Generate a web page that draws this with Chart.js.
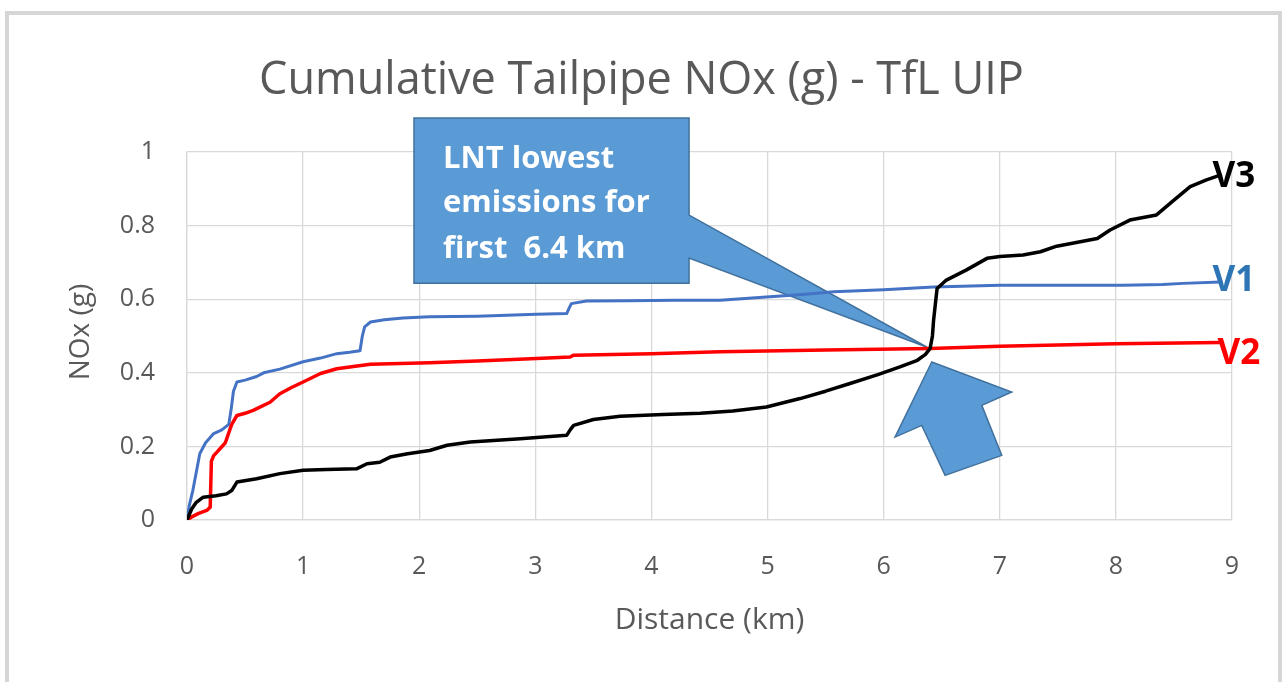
<!DOCTYPE html>
<html><head><meta charset="utf-8">
<script src="https://cdn.jsdelivr.net/npm/chart.js@4.4.1/dist/chart.umd.min.js"></script>
<style>html,body{margin:0;padding:0;background:#fff;overflow:hidden}#wrap{width:1283px;height:682px}</style>
</head><body><div id="wrap"><canvas id="c" width="1283" height="682"></canvas></div>
<script>
// ---- data ----
const chartTitle = 'Cumulative Tailpipe NOx (g) - TfL UIP';
const xAxisTitle = 'Distance (km)';
const yAxisTitle = 'NOx (g)';
const seriesNames = ['V1', 'V2', 'V3'];
const xTickLabels = ['0','1','2','3','4','5','6','7','8','9'];
const yTickLabels = ['0','0.2','0.4','0.6','0.8','1'];
const calloutLines = ['LNT lowest', 'emissions for', 'first  6.4 km'];

const v1X = [0,0.02,0.05,0.08,0.11,0.16,0.23,0.30,0.36,0.38,0.40,0.43,0.50,0.60,0.66,0.80,1.00,1.15,1.29,1.40,1.49,1.51,1.53,1.58,1.70,1.86,2.09,2.50,3.01,3.27,3.29,3.31,3.44,3.80,4.20,4.59,4.99,5.30,5.57,6.00,6.43,7.00,7.50,8.06,8.40,8.58,8.90];
const v1Y = [0,0.04,0.08,0.13,0.18,0.21,0.235,0.245,0.26,0.30,0.35,0.375,0.38,0.39,0.40,0.41,0.43,0.44,0.452,0.456,0.46,0.50,0.525,0.538,0.544,0.549,0.552,0.554,0.559,0.561,0.575,0.588,0.595,0.596,0.597,0.597,0.606,0.613,0.62,0.626,0.633,0.638,0.638,0.638,0.640,0.643,0.647];

const v2X = [0,0.05,0.10,0.17,0.20,0.21,0.23,0.26,0.33,0.385,0.43,0.50,0.57,0.715,0.80,0.90,1.00,1.15,1.29,1.45,1.58,2.09,2.50,3.01,3.30,3.33,4.00,4.59,5.50,6.40,7.00,8.00,8.90];
const v2Y = [0,0.01,0.018,0.026,0.035,0.16,0.175,0.185,0.21,0.26,0.284,0.29,0.298,0.32,0.343,0.36,0.375,0.398,0.411,0.418,0.423,0.427,0.432,0.439,0.443,0.448,0.452,0.457,0.462,0.466,0.472,0.479,0.482];

const v3X = [0,0.04,0.08,0.14,0.25,0.34,0.385,0.43,0.60,0.80,1.00,1.20,1.46,1.55,1.66,1.75,1.90,2.09,2.24,2.44,2.87,3.27,3.30,3.33,3.50,3.73,4.10,4.42,4.70,4.99,5.28,5.50,5.71,5.95,6.14,6.29,6.36,6.40,6.42,6.43,6.46,6.54,6.71,6.89,7.00,7.20,7.35,7.49,7.84,7.95,8.12,8.35,8.50,8.64,8.78,8.90];
const v3Y = [0,0.03,0.048,0.062,0.066,0.071,0.08,0.103,0.112,0.126,0.135,0.137,0.139,0.153,0.157,0.171,0.18,0.189,0.203,0.212,0.221,0.23,0.245,0.257,0.273,0.282,0.287,0.290,0.296,0.307,0.33,0.35,0.371,0.395,0.416,0.434,0.45,0.466,0.50,0.543,0.629,0.652,0.679,0.711,0.716,0.72,0.729,0.744,0.765,0.788,0.815,0.829,0.869,0.906,0.924,0.937];

const pts = (xs, ys) => xs.map((x, i) => ({x, y: ys[i]}));

// ---- decorations plugin ----
const GREY = '#595959';
const deco = {
  id: 'deco',
  beforeDraw(c) {
    const ctx = c.ctx;
    ctx.save();
    ctx.fillStyle = '#fff';
    ctx.fillRect(0, 0, c.width, c.height);
    ctx.strokeStyle = '#d6d6d6';
    ctx.lineWidth = 4;
    ctx.strokeRect(7, 13, 1273, 700);
    ctx.restore();
  },
  beforeDatasetsDraw(c) {
    const ctx = c.ctx, sx = c.scales.x, sy = c.scales.y;
    const P = (x, y) => [sx.getPixelForValue(x), sy.getPixelForValue(y)];
    ctx.save();
    ctx.fillStyle = '#5B9BD5';
    ctx.strokeStyle = '#41719C';
    ctx.lineWidth = 1.5;
    // callout box with pointer
    const bl = 1.955, br = 4.324, bt = 1.0925, bb = 0.6435;
    const path = [[bl,bt],[br,bt],[br,0.8286],[6.374,0.4694],[br,0.7116],[br,bb],[bl,bb]];
    ctx.beginPath();
    path.forEach((p, i) => { const q = P(p[0], p[1]); i ? ctx.lineTo(q[0], q[1]) : ctx.moveTo(q[0], q[1]); });
    ctx.closePath(); ctx.fill(); ctx.stroke();
    // block arrow
    const arrow = [[6.414,0.4294],[6.098,0.2253],[6.328,0.2571],[6.529,0.1211],[7.017,0.1755],[6.845,0.3116],[7.103,0.3478]];
    ctx.beginPath();
    arrow.forEach((p, i) => { const q = P(p[0], p[1]); i ? ctx.lineTo(q[0], q[1]) : ctx.moveTo(q[0], q[1]); });
    ctx.closePath(); ctx.fill(); ctx.stroke();
    // callout text
    const [tx, ty] = P(bl, bt);
    ctx.fillStyle = '#ffffff';
    ctx.font = 'bold 31px "Open Sans"';
    ctx.textAlign = 'left';
    ctx.textBaseline = 'alphabetic';
    const offs = [50, 94, 140];
    calloutLines.forEach((t, i) => ctx.fillText(t, tx + 29, ty + offs[i]));
    ctx.restore();
  },
  afterDraw(c) {
    const ctx = c.ctx, sx = c.scales.x, sy = c.scales.y, a = c.chartArea;
    ctx.save();
    ctx.fillStyle = GREY;
    ctx.textAlign = 'center';
    ctx.textBaseline = 'alphabetic';
    ctx.font = '45px "Open Sans"';
    ctx.fillText(chartTitle, 641.5, 94);
    ctx.font = '30px "Open Sans"';
    ctx.textBaseline = 'middle';
    ctx.fillText(xAxisTitle, (a.left + a.right) / 2, 620);
    ctx.font = '28px "Open Sans"';
    ctx.save();
    ctx.translate(81, (a.top + a.bottom) / 2 - 4);
    ctx.rotate(-Math.PI / 2);
    ctx.fillText(yAxisTitle, 0, 0);
    ctx.restore();
    // series end labels
    ctx.font = 'bold 35px "Open Sans"';
    ctx.textAlign = 'left';
    const lab = [
      {name: seriesNames[2], xs: v3X, ys: v3Y, col: '#000000', dx: -8, dy: 2},
      {name: seriesNames[0], xs: v1X, ys: v1Y, col: '#2E75B6', dx: -8, dy: -1},
      {name: seriesNames[1], xs: v2X, ys: v2Y, col: '#FF0000', dx: -3, dy: 11}
    ];
    lab.forEach(l => {
      const n = l.xs.length - 1;
      ctx.fillStyle = l.col;
      ctx.fillText(l.name, sx.getPixelForValue(l.xs[n]) + l.dx, sy.getPixelForValue(l.ys[n]) + l.dy);
    });
    ctx.restore();
  }
};

new Chart(document.getElementById('c'), {
  type: 'line',
  data: {
    datasets: [
      {label: seriesNames[0], data: pts(v1X, v1Y), borderColor: '#4472C4', borderWidth: 3, order: 2},
      {label: seriesNames[1], data: pts(v2X, v2Y), borderColor: '#FF0000', borderWidth: 3.5, order: 1},
      {label: seriesNames[2], data: pts(v3X, v3Y), borderColor: '#000000', borderWidth: 3.5, order: 0}
    ]
  },
  options: {
    responsive: false,
    animation: false,
    devicePixelRatio: 1,
    elements: {point: {radius: 0}, line: {tension: 0, borderCapStyle: 'round', borderJoinStyle: 'round'}},
    layout: {padding: {top: 152, right: 51, left: 0, bottom: 0}},
    plugins: {legend: {display: false}, tooltip: {enabled: false}, title: {display: false}},
    scales: {
      x: {
        type: 'linear', min: 0, max: 9,
        afterFit: s => { s.height = 162; },
        ticks: {stepSize: 1, padding: 32, color: GREY, font: {family: 'Open Sans', size: 25},
                callback: v => xTickLabels[Math.round(v)]},
        grid: {color: '#d9d9d9', lineWidth: 1.3, drawTicks: false},
        border: {display: true, color: '#d9d9d9', width: 1.3}
      },
      y: {
        type: 'linear', min: 0, max: 1,
        afterFit: s => { s.width = 187; },
        ticks: {stepSize: 0.2, padding: 32, color: GREY, font: {family: 'Open Sans', size: 25},
                callback: v => yTickLabels[Math.round(v / 0.2)]},
        grid: {color: '#d9d9d9', lineWidth: 1.3, drawTicks: false},
        border: {display: true, color: '#d9d9d9', width: 1.3}
      }
    }
  },
  plugins: [deco]
});
</script></body></html>
